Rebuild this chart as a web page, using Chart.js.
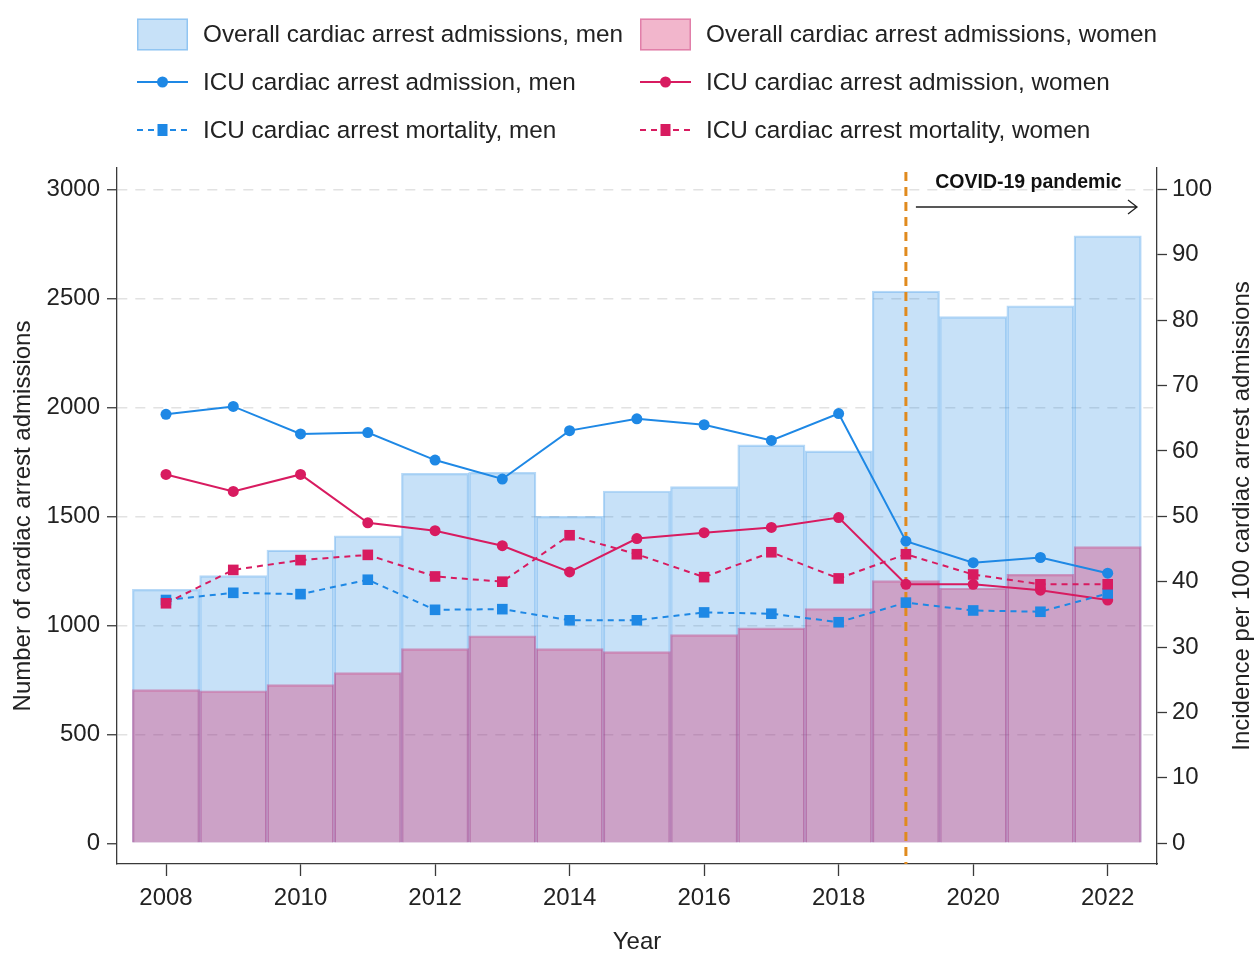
<!DOCTYPE html>
<html>
<head>
<meta charset="utf-8">
<title>Cardiac arrest admissions and ICU outcomes by sex, 2008–2022</title>
<script src="https://cdn.jsdelivr.net/npm/chart.js@4"></script>
<style>
  html, body { margin: 0; padding: 0; background: #ffffff; }
  #wrap { width: 1255px; height: 956px; position: relative; }
</style>
</head>
<body>
<div id="wrap"><canvas id="chart"></canvas></div>
<script>
// ---- data ----
const years = [2008, 2009, 2010, 2011, 2012, 2013, 2014, 2015, 2016, 2017, 2018, 2019, 2020, 2021, 2022];
const overallMen   = [1165, 1228, 1345, 1411, 1697, 1702, 1500, 1616, 1636, 1828, 1800, 2533, 2416, 2466, 2787];
const overallWomen = [705, 700, 728, 783, 893, 952, 893, 879, 957, 988, 1077, 1205, 1170, 1234, 1361];
const icuAdmMen    = [65.6, 66.8, 62.6, 62.8, 58.6, 55.7, 63.1, 64.9, 64.0, 61.6, 65.7, 46.2, 42.9, 43.7, 41.3];
const icuAdmWomen  = [56.4, 53.8, 56.4, 49.0, 47.8, 45.5, 41.5, 46.6, 47.5, 48.3, 49.8, 39.6, 39.6, 38.7, 37.2];
const icuMortMen   = [37.2, 38.3, 38.1, 40.3, 35.7, 35.8, 34.1, 34.1, 35.3, 35.1, 33.8, 36.8, 35.6, 35.4, 38.2];
const icuMortWomen = [36.7, 41.8, 43.3, 44.1, 40.8, 40.0, 47.1, 44.2, 40.7, 44.5, 40.5, 44.2, 41.1, 39.6, 39.6];

const xTicks     = [2008, 2010, 2012, 2014, 2016, 2018, 2020, 2022];
const leftTicks  = [0, 500, 1000, 1500, 2000, 2500, 3000];
const rightTicks = [0, 10, 20, 30, 40, 50, 60, 70, 80, 90, 100];
const pandemicStart = 2019;

const seriesNames = [
  'Overall cardiac arrest admissions, men',
  'Overall cardiac arrest admissions, women',
  'ICU cardiac arrest admission, men',
  'ICU cardiac arrest admission, women',
  'ICU cardiac arrest mortality, men',
  'ICU cardiac arrest mortality, women'
];

// ---- styling ----
const FONT = '"Liberation Sans", Arial, Helvetica, sans-serif';
const INK = '#222222';
const AXIS = '#3a3a3a';
const BLUE = '#1E88E5';
const PINK = '#D81B60';
const BLUE_FILL = 'rgba(30,136,229,0.25)';
const BLUE_EDGE = 'rgba(30,136,229,0.32)';
const PINK_FILL = 'rgba(216,27,96,0.32)';
const PINK_EDGE = 'rgba(200,50,120,0.42)';

const pts = vals => years.map((yr, i) => ({ x: yr, y: vals[i] }));

const datasets = [
  { type: 'bar', label: seriesNames[0], data: pts(overallMen), yAxisID: 'y', order: 6,
    backgroundColor: BLUE_FILL, borderColor: BLUE_EDGE, borderWidth: 1.5, grouped: false,
    barPercentage: 1, categoryPercentage: 1 },
  { type: 'bar', label: seriesNames[1], data: pts(overallWomen), yAxisID: 'y', order: 5,
    backgroundColor: PINK_FILL, borderColor: PINK_EDGE, borderWidth: 1.5, grouped: false,
    barPercentage: 1, categoryPercentage: 1 },
  { type: 'line', label: seriesNames[2], data: pts(icuAdmMen), yAxisID: 'y2', order: 4,
    borderColor: BLUE, backgroundColor: BLUE, borderWidth: 2, pointStyle: 'circle',
    pointRadius: 5.5, pointBorderWidth: 0, tension: 0 },
  { type: 'line', label: seriesNames[3], data: pts(icuAdmWomen), yAxisID: 'y2', order: 3,
    borderColor: PINK, backgroundColor: PINK, borderWidth: 2, pointStyle: 'circle',
    pointRadius: 5.5, pointBorderWidth: 0, tension: 0 },
  { type: 'line', label: seriesNames[4], data: pts(icuMortMen), yAxisID: 'y2', order: 2,
    borderColor: BLUE, backgroundColor: BLUE, borderWidth: 2, borderDash: [6, 5], pointStyle: 'rect',
    pointRadius: 7.5, pointBorderWidth: 0, tension: 0 },
  { type: 'line', label: seriesNames[5], data: pts(icuMortWomen), yAxisID: 'y2', order: 1,
    borderColor: PINK, backgroundColor: PINK, borderWidth: 2, borderDash: [6, 5], pointStyle: 'rect',
    pointRadius: 7.5, pointBorderWidth: 0, tension: 0 }
];

// pandemic marker drawn between the bars and the lines
function drawPandemicLine(chart) {
  const { ctx, chartArea } = chart;
  const x = chart.scales.x.getPixelForValue(pandemicStart);
  ctx.save();
  ctx.strokeStyle = '#E08A1E';
  ctx.lineWidth = 3;
  ctx.setLineDash([9, 6]);
  ctx.beginPath();
  ctx.moveTo(x, chartArea.top + 4);
  ctx.lineTo(x, chartArea.bottom);
  ctx.stroke();
  ctx.restore();
}

function drawAnnotation(chart) {
  const { ctx, chartArea } = chart;
  const x0 = chart.scales.x.getPixelForValue(pandemicStart) + 10;
  const x1 = chartArea.right - 20;
  const y = chartArea.top + 39;
  ctx.save();
  ctx.strokeStyle = '#222';
  ctx.lineWidth = 1.3;
  ctx.beginPath();
  ctx.moveTo(x0, y); ctx.lineTo(x1, y);
  ctx.moveTo(x1 - 9, y - 7); ctx.lineTo(x1, y); ctx.lineTo(x1 - 9, y + 7);
  ctx.stroke();
  ctx.fillStyle = '#111';
  ctx.font = 'bold 19.5px ' + FONT;
  ctx.textAlign = 'center';
  ctx.textBaseline = 'middle';
  ctx.fillText('COVID-19 pandemic', (x0 + x1) / 2 + 2, chartArea.top + 15);
  ctx.restore();
}

function drawRightTitle(chart) {
  const { ctx, chartArea } = chart;
  ctx.save();
  ctx.translate(1242, (chartArea.top + chartArea.bottom) / 2);
  ctx.rotate(-Math.PI / 2);
  ctx.fillStyle = INK;
  ctx.font = '24px ' + FONT;
  ctx.textAlign = 'center';
  ctx.textBaseline = 'middle';
  ctx.fillText('Incidence per 100 cardiac arrest admissions', 0, 0);
  ctx.restore();
}

function drawLegend(chart) {
  const { ctx } = chart;
  const cols = [137, 640];
  const rows = [34.5, 82, 130];
  const sw = 51;
  ctx.save();
  chart.data.datasets.forEach((ds, i) => {
    const col = cols[i % 2];
    const row = rows[Math.floor(i / 2)];
    if (ds.type === 'bar') {
      ctx.fillStyle = ds.backgroundColor;
      ctx.fillRect(col, row - 16, sw, 32);
      ctx.strokeStyle = ds.borderColor;
      ctx.lineWidth = 1.5;
      ctx.strokeRect(col + 0.75, row - 15.25, sw - 1.5, 30.5);
    } else {
      ctx.strokeStyle = ds.borderColor;
      ctx.lineWidth = 2;
      ctx.setLineDash(ds.borderDash || []);
      ctx.beginPath();
      ctx.moveTo(col, row); ctx.lineTo(col + sw, row);
      ctx.stroke();
      ctx.setLineDash([]);
      ctx.fillStyle = ds.backgroundColor;
      const cx = col + sw / 2;
      if (ds.pointStyle === 'rect') {
        ctx.fillRect(cx - 5, row - 6, 10, 12);
      } else {
        ctx.beginPath(); ctx.arc(cx, row, 5.5, 0, Math.PI * 2); ctx.fill();
      }
    }
    ctx.fillStyle = INK;
    ctx.font = '24.3px ' + FONT;
    ctx.textAlign = 'left';
    ctx.textBaseline = 'middle';
    ctx.fillText(ds.label, col + 66, row + 1);
  });
  ctx.restore();
}

const decorations = {
  id: 'decorations',
  afterDatasetDraw(chart, args) {
    if (args.index === 1) drawPandemicLine(chart);
  },
  afterDraw(chart) {
    drawAnnotation(chart);
    drawRightTitle(chart);
    drawLegend(chart);
  }
};

const tickFont = { family: FONT, size: 24 };

new Chart(document.getElementById('chart'), {
  data: { datasets },
  plugins: [decorations],
  options: {
    responsive: true,
    maintainAspectRatio: false,
    animation: false,
    layout: { padding: { top: 168, left: 0, right: 0, bottom: 0 } },
    plugins: { legend: { display: false }, tooltip: { enabled: false } },
    scales: {
      x: {
        type: 'linear',
        offset: false,
        min: 2007.2715,
        max: 2022.733,
        afterBuildTicks: s => { s.ticks = xTicks.map(v => ({ value: v })); },
        afterFit: s => { s.height = 92; },
        ticks: { font: tickFont, color: INK, padding: 8, autoSkip: false, maxRotation: 0,
                 callback: v => String(v) },
        grid: { offset: false, drawOnChartArea: false, drawTicks: true, tickLength: 12,
                tickColor: AXIS, tickWidth: 1.3 },
        border: { display: true, color: AXIS, width: 1.3 },
        title: { display: true, text: 'Year', color: INK, padding: 0,
                 font: { family: FONT, size: 24, lineHeight: 1.1 } }
      },
      y: {
        type: 'linear',
        position: 'left',
        min: -95,
        max: 3098,
        afterBuildTicks: s => { s.ticks = leftTicks.map(v => ({ value: v })); },
        afterFit: s => { s.width = 117; },
        ticks: { font: tickFont, color: INK, padding: 7, callback: v => String(v) },
        grid: {
          drawOnChartArea: true, drawTicks: true, tickLength: 10,
          color: c => (c.tick && c.tick.value === 0) ? 'rgba(0,0,0,0)' : '#e2e2e2',
          lineWidth: 1.5, tickColor: AXIS, tickWidth: 1.3
        },
        border: { display: true, color: AXIS, width: 1.3, dash: [10, 8] },
        title: { display: true, text: 'Number of cardiac arrest admissions', color: INK, padding: 9,
                 font: { family: FONT, size: 24, lineHeight: 1.2 } }
      },
      y2: {
        type: 'linear',
        position: 'right',
        min: -3.17,
        max: 103.26,
        afterBuildTicks: s => { s.ticks = rightTicks.map(v => ({ value: v })); },
        afterFit: s => { s.width = 98; },
        ticks: { font: tickFont, color: INK, padding: 5, callback: v => String(v) },
        grid: { drawOnChartArea: false, drawTicks: true, tickLength: 10, tickColor: AXIS, tickWidth: 1.3 },
        border: { display: true, color: AXIS, width: 1.3 }
      }
    }
  }
});
</script>
</body>
</html>
